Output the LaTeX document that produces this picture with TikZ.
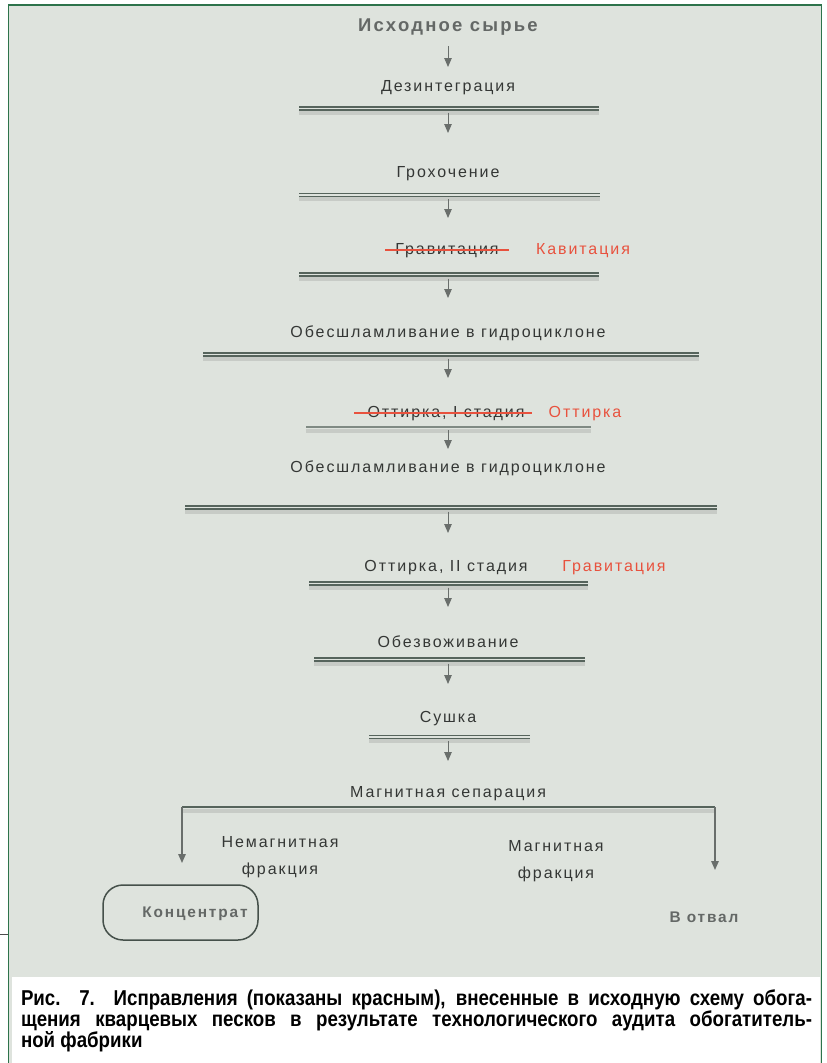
\documentclass[tikz,border=0pt]{standalone}
\usepackage{fontspec}
\setmainfont{Liberation Sans}
\newfontfamily\stagefont[LetterSpace=12]{Liberation Sans}
\newfontfamily\capfont[FakeStretch=0.87]{Liberation Sans}
\usetikzlibrary{positioning, arrows.meta, calc}

\definecolor{paper}{RGB}{222,227,221}
\definecolor{framegreen}{RGB}{45,115,75}
\definecolor{barline}{RGB}{86,100,92}
\definecolor{fixred}{RGB}{232,82,62}
\definecolor{ink}{RGB}{52,55,53}
\definecolor{softink}{RGB}{100,104,102}
\definecolor{arrowgray}{RGB}{105,110,107}

\begin{document}
\begin{tikzpicture}[x=1pt, y=-1pt, every node/.style={inner sep=1pt},
  stage/.style={font=\stagefont\fontsize{16}{18}\selectfont, text=ink, text height=11.5pt, text depth=3pt},
  fix/.style={stage, text=fixred},
  twoline/.style={font=\stagefont\fontsize{16}{27}\selectfont, text=ink, align=center},
  head/.style={font=\stagefont\bfseries\fontsize{18.5}{20}\selectfont, text=softink, text height=13pt, text depth=3.5pt},
  tail/.style={font=\stagefont\bfseries\fontsize{15.4}{18}\selectfont, text=softink, text height=11pt, text depth=3pt},
  bar/.style={draw=barline, line width=1.3pt, double=paper, double distance=1.6pt},
  barshadow/.style={draw=black, opacity=0.10, line width=4pt},
  strike/.style={draw=fixred, line width=1.4pt},
  arrow/.style={draw=arrowgray, line width=0.9pt, -{Triangle[length=9pt,width=7.5pt]}},
  branch/.style={draw=barline, line width=1.8pt}
]
\useasboundingbox (0,0) rectangle (827,1063);

% Sheet and frame
\fill[paper] (8.5,5) rectangle (821.5,1063);
\fill[white] (12,977) rectangle (820,1063);
\draw[framegreen, line width=1.6pt] (8.5,1063) -- (8.5,5) -- (821.5,5) -- (821.5,1063);
\draw[black!70, line width=0.8pt] (0,934) -- (8,934);

% Stages
\node[head] (raw) at (448,27) {Исходное сырье};
\node[stage] (dez) at (448,87) {Дезинтеграция};
\node[stage] (groh) at (448,173) {Грохочение};
\node[stage] (grav) at (447,250) {Гравитация};
\node[fix] (kav) at (583,250) {Кавитация};
\node[stage] (obes1) at (448,333) {Обесшламливание в гидроциклоне};
\node[stage] (ott1) at (446,413) {Оттирка, I стадия};
\node[fix] (ottfix) at (585,413) {Оттирка};
\node[stage] (obes2) at (448,468) {Обесшламливание в гидроциклоне};
\node[stage] (ott2) at (446,567) {Оттирка, II стадия};
\node[fix] (gravfix) at (614,567) {Гравитация};
\node[stage] (dehyd) at (448,643) {Обезвоживание};
\node[stage] (dry) at (448,718) {Сушка};
\node[stage] (magsep) at (448,793) {Магнитная сепарация};
\node[twoline] (nonmag) at (280,857) {Немагнитная\\фракция};
\node[twoline] (magfr) at (556,861) {Магнитная\\фракция};
\node[draw=barline!80!black, line width=1.5pt, rounded corners=20pt,
  minimum width=155pt, minimum height=55pt] (concbox) at (180.5,912.5) {};
\node[tail] (conc) at (195,913) {Концентрат};
\node[tail] (dump) at (704,918) {В отвал};

% Struck-out stages
\draw[strike] ($(grav.west)+(-9,0)$) -- ($(grav.east)+(9,0)$);
\draw[strike] ($(ott1.west)+(-12,0)$) -- ($(ott1.east)+(6,0)$);

% Bars under stages
\foreach \y/\xa/\xb/\nm in {108.5/299/599/b1, 195/299/600/b2, 274.5/299/599/b3,
    354.5/203/699/b4, 507.5/185/717/b6, 583.5/309/588/b7, 659.5/314/585/b8, 737/369/530/b9} {
  \draw[barshadow] (\xa,\y+4) -- (\xb,\y+4);
  \draw[bar] (\xa,\y) -- (\xb,\y);
  \coordinate (\nm) at (448,\y);
}
\draw[barshadow] (306,431) -- (591,431);
\draw[draw=barline!70!paper, line width=2.6pt] (306,427) -- (591,427);
\coordinate (b5) at (448,427);

% Separation branches
\coordinate (bl) at (182,807);
\coordinate (br) at (715,807);
\draw[barshadow] (182,811) -- (715,811);
\draw[branch] (bl) -- (br);

% Arrow tips
\coordinate (t0) at (448,67);
\coordinate (t1) at (448,133);
\coordinate (t2) at (448,218);
\coordinate (t3) at (448,298);
\coordinate (t4) at (448,378);
\coordinate (t5) at (448,449);
\coordinate (t6) at (448,533);
\coordinate (t7) at (448,607);
\coordinate (t8) at (448,684);
\coordinate (t9) at (448,761);
\coordinate (tl) at (182,863);
\coordinate (tr) at (715,870);

% Arrows
\draw[arrow, shorten <=10pt] (raw) -- (t0);
\draw[arrow, shorten <=4pt] (b1) -- (t1);
\draw[arrow, shorten <=4pt] (b2) -- (t2);
\draw[arrow, shorten <=4pt] (b3) -- (t3);
\draw[arrow, shorten <=4pt] (b4) -- (t4);
\draw[arrow, shorten <=3pt] (b5) -- (t5);
\draw[arrow, shorten <=4pt] (b6) -- (t6);
\draw[arrow, shorten <=4pt] (b7) -- (t7);
\draw[arrow, shorten <=4pt] (b8) -- (t8);
\draw[arrow, shorten <=4pt] (b9) -- (t9);
\draw[arrow, line width=1.4pt] (bl) -- (tl);
\draw[arrow, line width=1.4pt] (br) -- (tr);

% Caption
\node[text width=791pt, align=justify, inner sep=0pt,
  font=\capfont\bfseries\fontsize{21.5}{21}\selectfont] (caption) at (416.5,1021)
  {\hyphenpenalty=10000 Рис. 7. Исправления (показаны красным), внесенные в исходную схему обога-\linebreak
   щения кварцевых песков в результате технологического аудита обогатитель-\linebreak
   ной фабрики};

\end{tikzpicture}
\end{document}
